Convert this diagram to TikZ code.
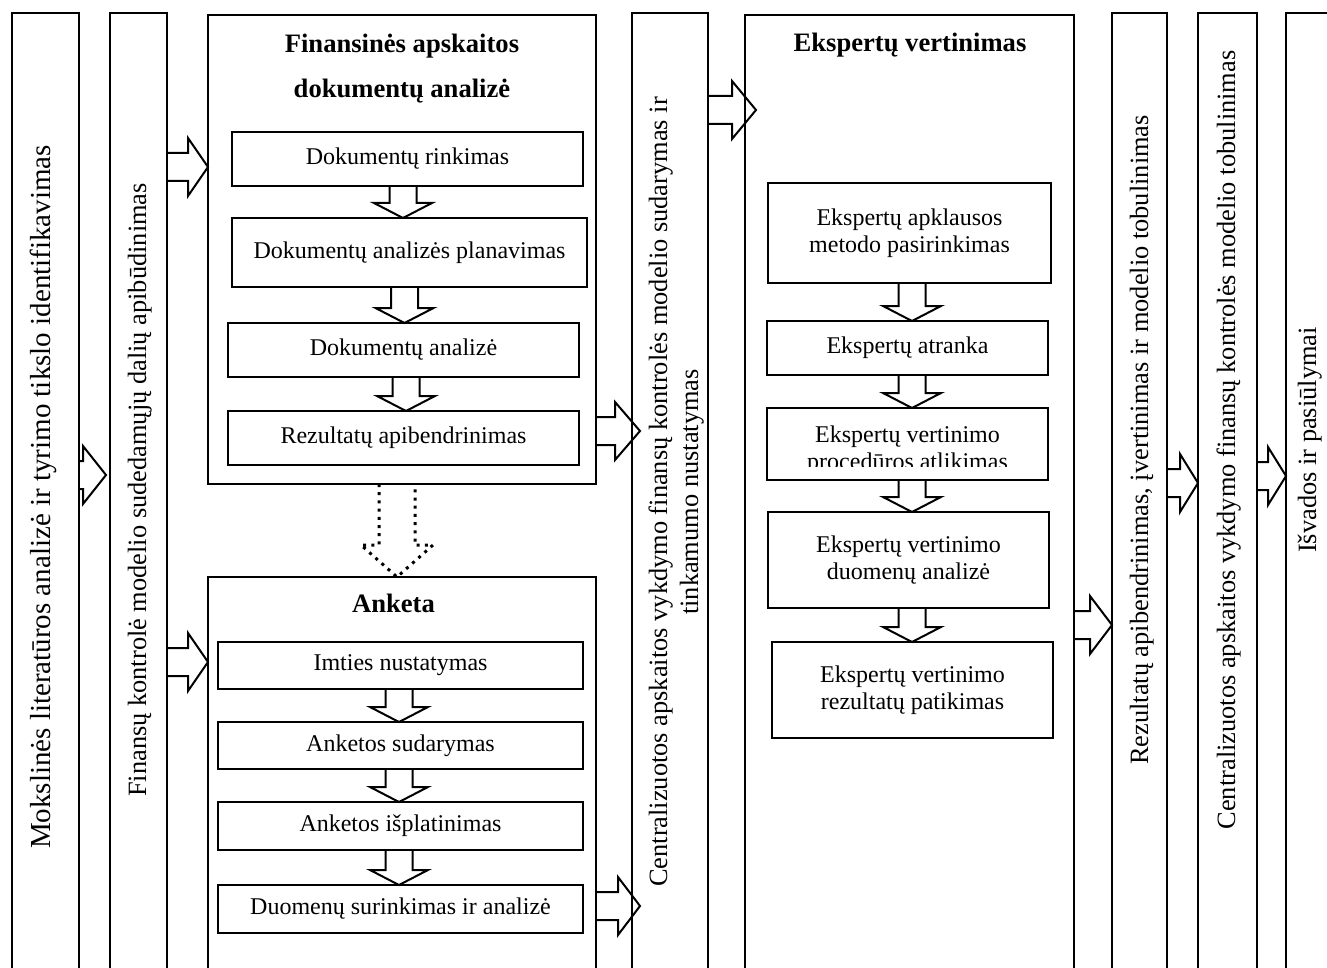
\documentclass[tikz,border=0pt]{standalone}
\usepackage{fontspec}
\setmainfont{Liberation Serif}
\usetikzlibrary{calc}

% font sizes
\newcommand\stepfont{\fontsize{12pt}{13.5pt}\selectfont}
\newcommand\titlefont{\fontsize{13.3pt}{22.5pt}\selectfont\bfseries}
\newcommand\litfont{\fontsize{14.5pt}{16pt}\selectfont}
\newcommand\colfont{\fontsize{13.2pt}{15.5pt}\selectfont}

% vertical block arrow: style, from, to, x, shaft half width, head half width, head length
\newcommand\vblock[7]{%
  \draw[#1] let \p1=(#2.south), \p2=(#3.north), \p3=(#4,0) in
    ({\x3-#5},\y1) -- ({\x3-#5},{\y2+#7}) -- ({\x3-#6},{\y2+#7}) -- (\x3,\y2)
    -- ({\x3+#6},{\y2+#7}) -- ({\x3+#5},{\y2+#7}) -- ({\x3+#5},\y1);}
\newcommand\stepdown[3]{\vblock{blockarrow}{#1}{#2}{#3}{6.75pt}{14.5pt}{7.5pt}}

% horizontal block arrow: from, to, y, head length, tip offset
\newcommand\hblock[5]{%
  \draw[blockarrow] let \p1=(#1.east), \p2=(#2.west), \p3=(0,#3) in
    (\x1,{\y3+7pt}) -- ({\x2+(#5)-#4},{\y3+7pt}) -- ({\x2+(#5)-#4},{\y3+14.5pt})
    -- ({\x2+(#5)},\y3) -- ({\x2+(#5)-#4},{\y3-14.5pt}) -- ({\x2+(#5)-#4},{\y3-7pt})
    -- (\x1,{\y3-7pt});}

\begin{document}
\begin{tikzpicture}[x=0.5pt,y=-0.5pt,
  column/.style={draw, line width=1.1pt, inner sep=0pt, outer sep=0pt, minimum height=498.5pt},
  group/.style={draw, line width=1.1pt, inner sep=0pt, outer sep=0pt},
  stepbox/.style={draw, line width=1pt, inner sep=0pt, outer sep=0pt, align=center, font=\stepfont},
  blockarrow/.style={draw, line width=1pt, line join=miter},
  dotarrow/.style={draw, line width=1.5pt, dash pattern=on 1.5pt off 2.6pt},
  coltext/.style={rotate=90, anchor=base, font=\colfont}]

\fill[white] (0,0) rectangle (1327,968);
\useasboundingbox (0,0) rectangle (1327,968);

% stage columns
\node[column, minimum width=33.5pt] (lit) at (45.5,511.5) {};
\node[column, minimum width=28.5pt] (parts) at (138.5,511.5) {};
\node[group, minimum width=194pt, minimum height=234.5pt] (fin) at (402,249.5) {};
\node[group, minimum width=194pt, minimum height=216.5pt] (ank) at (402,793.5) {};
\node[column, minimum width=38pt] (model) at (670,511.5) {};
\node[group, minimum width=164.5pt, minimum height=497.5pt] (eks) at (909.5,512.5) {};
\node[column, minimum width=27.5pt] (eval) at (1139.5,511.5) {};
\node[column, minimum width=29.5pt] (refine) at (1227.5,511.5) {};
\node[column, minimum width=29.5pt] (concl) at (1315.5,511.5) {};

% column captions (base anchor = baseline of the last line)
\node[rotate=90, anchor=base, font=\litfont] (littext) at (50,497)
  {Mokslinės literatūros analizė ir tyrimo tikslo identifikavimas};
\node[coltext] (partstext) at (146,490)
  {Finansų kontrolė modelio sudedamųjų dalių apibūdinimas};
\node[coltext, align=center] (modeltext) at (698,492)
  {Centralizuotos apskaitos vykdymo finansų kontrolės modelio sudarymas ir\\tinkamumo nustatymas};
\node[coltext] (evaltext) at (1148,440)
  {Rezultatų apibendrinimas, įvertinimas ir modelio tobulinimas};
\node[coltext] (refinetext) at (1235,440)
  {Centralizuotos apskaitos vykdymo finansų kontrolės modelio tobulinimas};
\node[coltext] (concltext) at (1316,440) {Išvados ir pasiūlymai};

% group titles
\node[anchor=base, align=center, font=\titlefont] (fintitle) at (402,98)
  {Finansinės apskaitos\\dokumentų analizė};
\node[anchor=base, font=\titlefont] (anktitle) at (393.5,612) {Anketa};
\node[anchor=base, font=\titlefont] (ekstitle) at (910,52) {Ekspertų vertinimas};

% document analysis steps
\node[stepbox, minimum width=175.5pt, minimum height=27pt] (d1) at (407.5,159) {Dokumentų rinkimas};
\node[stepbox, minimum width=177.5pt, minimum height=34.5pt] (d2) at (409.5,252.5) {Dokumentų analizės planavimas};
\node[stepbox, minimum width=175.5pt, minimum height=27pt] (d3) at (403.5,350) {Dokumentų analizė};
\node[stepbox, minimum width=175.5pt, minimum height=27pt] (d4) at (403.5,438) {Rezultatų apibendrinimas};

% questionnaire steps
\node[stepbox, minimum width=182.5pt, minimum height=23.5pt] (a1) at (400.5,665.5) {Imties nustatymas};
\node[stepbox, minimum width=182.5pt, minimum height=23.5pt] (a2) at (400.5,745.5) {Anketos sudarymas};
\node[stepbox, minimum width=182.5pt, minimum height=24pt] (a3) at (400.5,826) {Anketos išplatinimas};
\node[stepbox, minimum width=182.5pt, minimum height=24pt] (a4) at (400.5,909) {Duomenų surinkimas ir analizė};

% expert evaluation steps
\node[stepbox, minimum width=141.5pt, minimum height=50pt] (e1) at (909.5,233) {Ekspertų apklausos\\metodo pasirinkimas};
\node[stepbox, minimum width=140.5pt, minimum height=27pt] (e2) at (907.5,348) {Ekspertų atranka};
\node[stepbox, minimum width=140.5pt, minimum height=36pt] (e3) at (907.5,444) {};
\begin{scope}
  \clip (760,400) rectangle (1055,466);
  \node[anchor=base, align=center, font=\stepfont] (e3text) at (907.5,469)
    {Ekspertų vertinimo\\procedūros atlikimas};
\end{scope}
\node[stepbox, minimum width=140.5pt, minimum height=48pt] (e4) at (908.5,560) {Ekspertų vertinimo\\duomenų analizė};
\node[stepbox, minimum width=140.5pt, minimum height=48pt] (e5) at (912.5,690) {Ekspertų vertinimo\\rezultatų patikimas};

% arrows inside the groups
\stepdown{d1}{d2}{403}
\stepdown{d2}{d3}{404.5}
\stepdown{d3}{d4}{406}
\stepdown{a1}{a2}{399}
\stepdown{a2}{a3}{399}
\stepdown{a3}{a4}{399}
\stepdown{e1}{e2}{912}
\stepdown{e2}{e3}{912}
\stepdown{e3}{e4}{912}
\stepdown{e4}{e5}{912}
\vblock{dotarrow}{fin}{ank}{397}{9pt}{18pt}{16pt}

% arrows between stages
\hblock{lit}{parts}{475}{11.5pt}{-2pt}
\hblock{parts}{fin}{167}{10pt}{0pt}
\hblock{parts}{ank}{662}{10pt}{0pt}
\hblock{fin}{model}{431}{12.5pt}{4pt}
\hblock{ank}{model}{906}{11pt}{4pt}
\hblock{model}{eks}{110}{12pt}{5.5pt}
\hblock{eks}{eval}{625}{11pt}{0pt}
\hblock{eval}{refine}{483}{9pt}{0pt}
\hblock{refine}{concl}{476}{9pt}{0pt}

\end{tikzpicture}
\end{document}
